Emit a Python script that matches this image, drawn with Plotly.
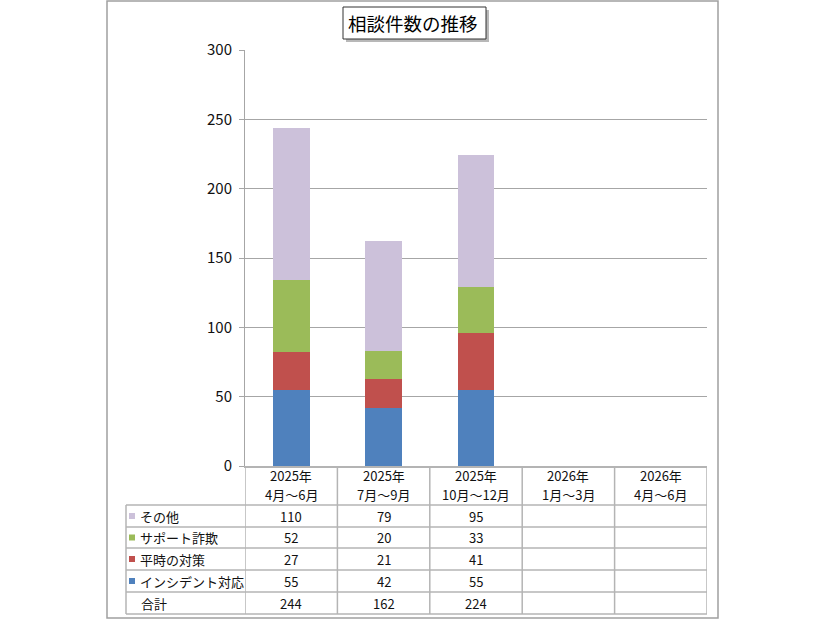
import plotly.graph_objects as go

W, H = 826, 620

categories = ["2025年<br>4月～6月", "2025年<br>7月～9月", "2025年<br>10月～12月",
              "2026年<br>1月～3月", "2026年<br>4月～6月"]
series_names = ["インシデント対応", "平時の対策", "サポート詐欺", "その他"]
incident = [55, 42, 55, None, None]
heiji = [27, 21, 41, None, None]
support = [52, 20, 33, None, None]
other = [110, 79, 95, None, None]
totals = [244, 162, 224, None, None]
colors = ["#4F81BD", "#C0504D", "#9BBB59", "#CCC1DA"]
y_ticks = [0, 50, 100, 150, 200, 250, 300]
title_text = "相談件数の推移"
total_label = "合計"

FONT = "Noto Sans CJK JP, Noto Sans, sans-serif"

def px(x):
    return x / W

def py(y):
    return 1 - y / H

# pixel geometry
X0, X1 = 245, 707       # plot area x
YT, YB = 50, 466        # plot area y (300 and 0)
LEFT = 126              # table left edge
HDR = 505               # header bottom
ROWS = [505, 527, 548, 570, 592, 614]

fig = go.Figure()
values = [incident, heiji, support, other]
for name, vals, col in zip(series_names, values, colors):
    fig.add_trace(go.Bar(x=categories, y=vals, name=name, marker=dict(color=col, line=dict(width=0)),
                         width=0.4, showlegend=False, hoverinfo="skip"))

shapes = []
annotations = []
gc = "#B4B4B4"

def ann(**kw):
    d = dict(showarrow=False, xanchor="center", yanchor="middle")
    d.update(kw)
    annotations.append(d)

# outer border
shapes.append(dict(type="rect", xref="paper", yref="paper", x0=px(107), x1=px(718), y0=py(618), y1=py(1),
                   line=dict(color="#A0A0A0", width=1.5)))

# table horizontal lines
for r in ROWS:
    shapes.append(dict(type="line", xref="paper", yref="paper", x0=px(LEFT), x1=px(X1), y0=py(r), y1=py(r),
                       line=dict(color=gc, width=1.5)))
# vertical lines
shapes.append(dict(type="line", xref="paper", yref="paper", x0=px(LEFT), x1=px(LEFT), y0=py(HDR), y1=py(ROWS[-1]),
                   line=dict(color=gc, width=1.5)))
for i in range(len(categories) + 1):
    shapes.append(dict(type="line", xref="x", yref="paper", x0=i - 0.5, x1=i - 0.5, y0=py(YB), y1=py(ROWS[-1]),
                       line=dict(color=gc, width=1.5)))

# header labels (two lines each)
for c in categories:
    top, bottom = c.split("<br>")
    ann(x=c, y=py(475.5), xref="x", yref="paper", text=top,
        font=dict(size=13, color="#111", family=FONT))
    ann(x=c, y=py(494.5), xref="x", yref="paper", text=bottom,
        font=dict(size=13, color="#111", family=FONT))

# table rows: その他, サポート詐欺, 平時の対策, インシデント対応, 合計
row_names = [series_names[3], series_names[2], series_names[1], series_names[0]]
row_vals = [other, support, heiji, incident]
row_cols = [colors[3], colors[2], colors[1], colors[0]]
for k in range(5):
    yc = (ROWS[k] + ROWS[k + 1]) / 2
    if k < 4:
        name, vals, col = row_names[k], row_vals[k], row_cols[k]
        shapes.append(dict(type="rect", xref="paper", yref="paper", x0=px(129), x1=px(135),
                           y0=py(yc + 3), y1=py(yc - 3), fillcolor=col, line=dict(width=0)))
        lab_x = 138
    else:
        name, vals = total_label, totals
        lab_x = 139
    ann(x=px(lab_x), y=py(yc), xref="paper", yref="paper", text=name, xanchor="left",
        font=dict(size=13, color="#111", family=FONT))
    for c, v in zip(categories, vals):
        if v is not None:
            ann(x=c, y=py(yc), xref="x", yref="paper", text=str(v),
                font=dict(size=13, color="#111", family=FONT))

# title box with shadow
shapes.append(dict(type="rect", xref="paper", yref="paper", x0=px(346), x1=px(489), y0=py(42), y1=py(10),
                   fillcolor="#9A9A9A", line=dict(width=0), opacity=0.7))
shapes.append(dict(type="rect", xref="paper", yref="paper", x0=px(343), x1=px(486), y0=py(39), y1=py(7),
                   fillcolor="white", line=dict(color="#333", width=1)))
ann(x=px(413.5), y=py(23), xref="paper", yref="paper", text=title_text,
    font=dict(size=18.5, color="#000", family=FONT))

fig.update_layout(
    width=W, height=H, margin=dict(l=0, r=0, t=0, b=0, pad=0, autoexpand=False),
    paper_bgcolor="white", plot_bgcolor="white",
    barmode="stack", bargap=0.6, hovermode=False,
    shapes=shapes, annotations=annotations,
    xaxis=dict(domain=[px(X0), px(X1)], type="category", categoryorder="array", categoryarray=categories,
               range=[-0.5, len(categories) - 0.5], showticklabels=False, ticks="", showgrid=False,
               showline=True, linecolor=gc, linewidth=1.5, zeroline=False, automargin=False),
    yaxis=dict(domain=[py(YB), py(YT)], range=[0, 300], tickvals=y_ticks, showgrid=True, gridcolor="#A6A6A6",
               gridwidth=1, showline=True, linecolor="#A6A6A6", linewidth=1, ticks="outside", ticklen=5,
               tickcolor="#A6A6A6", zeroline=False, automargin=False,
               tickfont=dict(size=15, color="#111", family=FONT), ticklabelstandoff=4),
)

fig.write_html("out.html", config={"displayModeBar": False, "staticPlot": True},
               post_script="document.body.style.margin='0';document.body.style.overflow='hidden';")
